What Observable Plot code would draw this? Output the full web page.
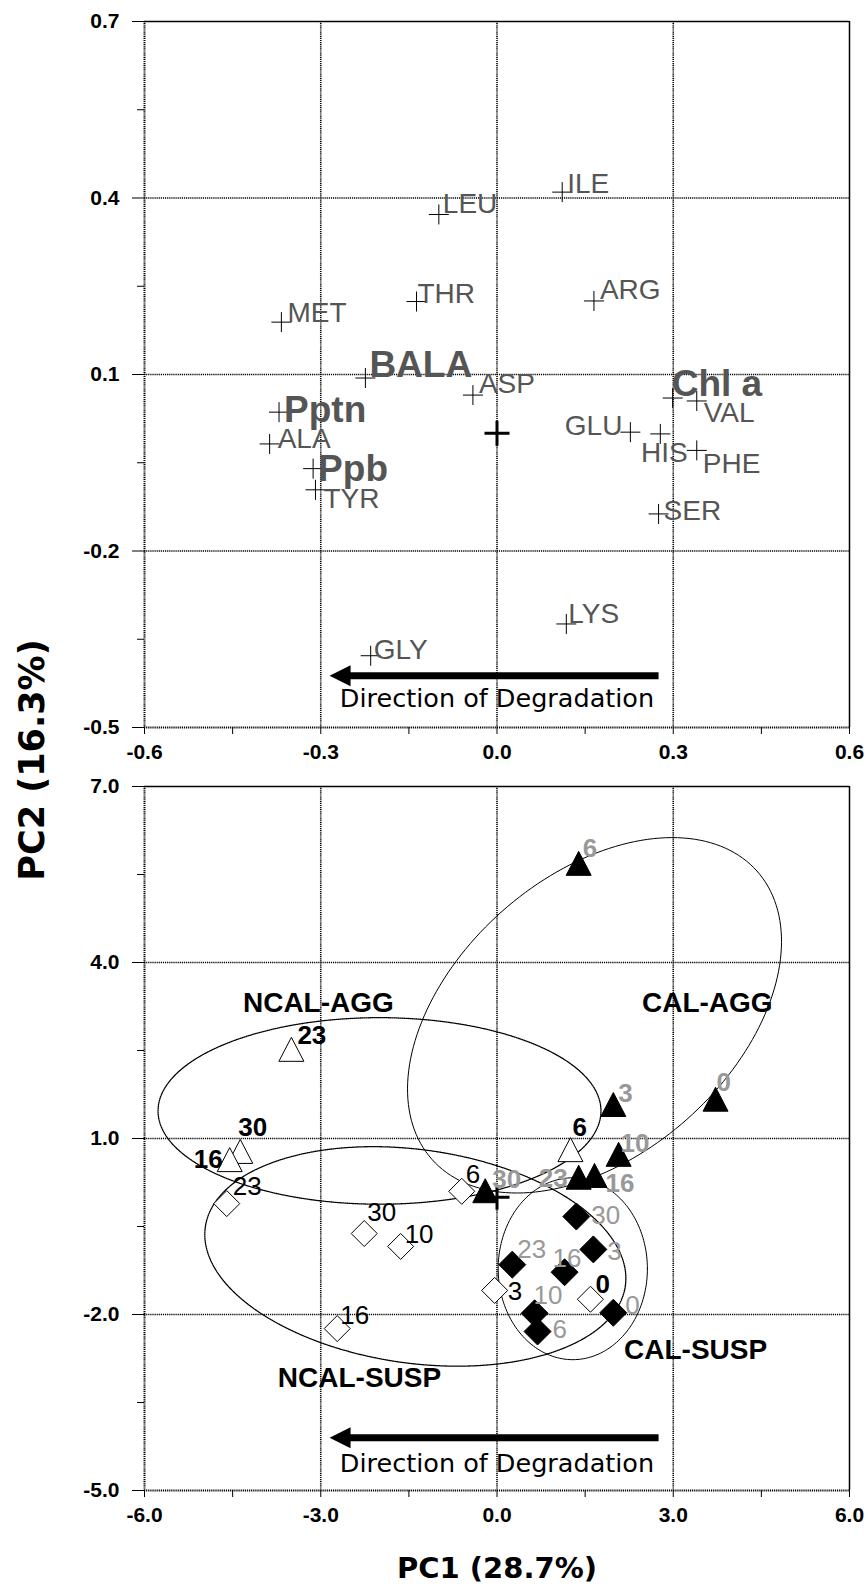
<!DOCTYPE html>
<html><head><meta charset="utf-8">
<script src="https://cdn.jsdelivr.net/npm/d3@7"></script>
<script src="https://cdn.jsdelivr.net/npm/@observablehq/plot@0.6"></script>
<style>
html,body{margin:0;padding:0;background:#fff;}
#wrap{position:relative;width:868px;height:1586px;overflow:hidden;background:#fff;}
#top{position:absolute;left:0;top:0;}
#bottom{position:absolute;left:0;top:770px;}
#pc2{position:absolute;left:32px;top:760px;transform:translate(-50%,-50%) rotate(-90deg);font:bold 35px "DejaVu Sans",Verdana,sans-serif;white-space:nowrap;color:#000;}
</style></head><body>
<div id="wrap"><div id="top"></div><div id="bottom"></div><div id="pc2">PC2 (16.3%)</div></div>
<script>
// ---------- Top panel: variable loadings ----------
const loadVars = ["LEU","ILE","THR","ARG","MET","BALA","ASP","Chl a","VAL","Pptn","ALA","GLU","HIS","PHE","Ppb","TYR","SER","LYS","GLY"];
const loadPC1  = [-0.099, 0.111,-0.137, 0.165,-0.367,-0.224,-0.041, 0.299, 0.340,-0.371,-0.387, 0.227, 0.278, 0.340,-0.313,-0.309, 0.275, 0.118,-0.215];
const loadPC2  = [ 0.372, 0.410, 0.224, 0.225, 0.189, 0.094, 0.065, 0.060, 0.055, 0.036,-0.018, 0.002,-0.001,-0.029,-0.060,-0.096,-0.137,-0.324,-0.378];
const loadBold = ["BALA","Chl a","Pptn","Ppb"];
// label layout: [dx, dy(baseline), anchor]
const loadLabelPos = [[4,-1,"start"],[5,1,"start"],[1,1,"start"],[6,-2,"start"],[6,0,"start"],[4,-1,"start"],[6,-2,"start"],[-1,-2,"start"],[7,21,"start"],[5,10,"start"],[8,4,"start"],[-8,3,"end"],[4,28,"middle"],[6,23,"start"],[5,12,"start"],[8,18,"start"],[5,6,"start"],[2,-1,"start"],[3,3,"start"]];

const topXTicks = [-0.6,-0.3,0.0,0.3,0.6];
const topYTicks = [-0.5,-0.2,0.1,0.4,0.7];
const topXMinor = [-0.45,-0.15,0.15,0.45];
const topYMinor = [-0.35,-0.05,0.25,0.55];
const topArrow = {from: 0.275, to: -0.285, y: -0.412, textY: -0.466, textX: 0.0};

// ---------- Bottom panel: sample scores ----------
const ncalAggDay = ["23","30","16","6"];
const ncalAggX   = [-3.50,-4.37,-4.55, 1.25];
const ncalAggY   = [ 2.52, 0.78, 0.64, 0.81];
const calAggDay  = ["6","0","3","10","16","23","30"];
const calAggX    = [ 1.39, 3.72, 1.98, 2.07, 1.66, 1.39,-0.20];
const calAggY    = [ 5.69, 1.67, 1.58, 0.73, 0.37, 0.34, 0.11];
const ncalSuspDay= ["23","30","10","16","6","3","0"];
const ncalSuspX  = [-4.60,-2.26,-1.64,-2.72,-0.60,-0.04, 1.59];
const ncalSuspY  = [-0.11,-0.62,-0.84,-2.24, 0.10,-1.59,-1.74];
const calSuspDay = ["30","3","23","16","10","6","0"];
const calSuspX   = [ 1.35, 1.64, 0.26, 1.15, 0.64, 0.69, 1.98];
const calSuspY   = [-0.33,-0.89,-1.15,-1.28,-1.98,-2.29,-1.97];

const ncalAggLabelPos  = [[6,-5,"start"],[-2,-15,"start"],[-7,8,"end"],[2,-14,"start"]];
const calAggLabelPos   = [[4,-6,"start"],[1,-8,"start"],[5,-2,"start"],[2,-2,"start"],[11,17,"start"],[-11,10,"end"],[7,-3,"start"]];
const ncalSuspLabelPos = [[6,-9,"start"],[3,-13,"start"],[4,-3,"start"],[3,-5,"start"],[4,-8,"start"],[13,10,"start"],[5,-6,"start"]];
const calSuspLabelPos  = [[15,7,"start"],[14,11,"start"],[5,-7,"start"],[-12,-5,"start"],[-1,-9,"start"],[15,6,"start"],[12,1,"start"]];

// group ellipses (PC1 centre, PC2 centre, semi-axes, rotation in degrees)
const ellName  = ["NCAL-AGG","NCAL-SUSP","CAL-AGG","CAL-SUSP"];
const ellCx    = [-2.00,-1.39, 1.66, 1.29];
const ellCy    = [ 1.47,-1.01, 3.10,-1.22];
const ellRx    = [ 3.77, 3.61, 3.70, 1.27];
const ellRy    = [ 1.59, 1.82, 2.37, 1.55];
const ellAngle = [ 0, -8, 41.6, 0];
const ellDotted= [true, true, false, false];

const groupLabel  = ["NCAL-AGG","CAL-AGG","NCAL-SUSP","CAL-SUSP"];
const groupLabelX = [-3.04, 3.58,-2.34, 3.38];
const groupLabelY = [ 3.15, 3.16,-3.23,-2.75];

const botXTicks = [-6,-3,0,3,6];
const botYTicks = [-5,-2,1,4,7];
const botXMinor = [-4.5,-1.5,1.5,4.5];
const botYMinor = [-3.5,-0.5,2.5,5.5];
const botArrow = {from: 2.75, to: -2.85, y: -4.10, textY: -4.69, textX: 0.0};

// ---------- symbols ----------
const plusSym = {draw(c,s){const r=Math.sqrt(s/Math.PI);c.moveTo(-r,0);c.lineTo(r,0);c.moveTo(0,-r);c.lineTo(0,r);}};
const triSym  = {draw(c,s){const r=Math.sqrt(s/Math.PI);const h=r*0.96;c.moveTo(0,-h);c.lineTo(r,h);c.lineTo(-r,h);c.closePath();}};
const diaSym  = {draw(c,s){const r=Math.sqrt(s/Math.PI);c.moveTo(0,-r);c.lineTo(r,0);c.lineTo(0,r);c.lineTo(-r,0);c.closePath();}};
const headSym = {draw(c,s){const r=Math.sqrt(s/Math.PI);c.moveTo(0,0);c.lineTo(2*r,-r);c.lineTo(2*r,r);c.closePath();}};

const fmt = d => d.toFixed(1);
const ARIAL = "'Liberation Sans', Arial, Helvetica, sans-serif";
const GRID = {stroke:"#000", strokeOpacity:1, strokeWidth:1.6, strokeDasharray:"1.2,0.9"};

function axes(xt, yt, xm, ym){
  return [
    Plot.gridX(xt.slice(1,-1), GRID),
    Plot.gridY(yt.slice(1,-1), GRID),
    Plot.ruleX([xt[0]], {...GRID, strokeWidth:2}),
    Plot.ruleY([yt[0]], {...GRID, strokeWidth:2}),
    Plot.ruleX([xt[xt.length-1]], {stroke:"#000", strokeWidth:1.5}),
    Plot.ruleY([yt[yt.length-1]], {stroke:"#000", strokeWidth:1.5}),
    Plot.axisY(yt, {anchor:"left", tickSize:12, tickPadding:13, tickFormat:fmt, label:null, fontSize:21, fontWeight:"bold", fontFamily:ARIAL}),
    Plot.axisY(ym, {anchor:"left", tickSize:7, tickFormat:()=>"", label:null}),
    Plot.axisX(xt, {anchor:"bottom", tickSize:7, tickPadding:10, tickFormat:fmt, label:null, fontSize:21, fontWeight:"bold", fontFamily:ARIAL}),
    Plot.axisX(xm, {anchor:"bottom", tickSize:7, tickFormat:()=>"", label:null})
  ];
}

function arrowMarks(a, gap){
  return [
    Plot.link([a], {x1:"from", x2: d => d.to + gap, y1:"y", y2:"y", stroke:"#000", strokeWidth:7}),
    Plot.dot([a], {x:"to", y:"y", symbol:headSym, r:10.5, fill:"#000", stroke:"none"}),
    Plot.text([a], {x:"textX", y:"textY", text:()=> "Direction of Degradation", fontSize:25.5, fontFamily:"'DejaVu Sans', Verdana, sans-serif", fill:"#000", textAnchor:"middle", lineAnchor:"bottom"})
  ];
}

// ---------- top chart ----------
const loadData = loadVars.map((v,i)=>({v, x:loadPC1[i], y:loadPC2[i], bold: loadBold.includes(v), pos: loadLabelPos[i]}));
const topPlot = Plot.plot({
  width:868, height:770, marginLeft:144, marginRight:19, marginTop:21, marginBottom:43,
  x:{domain:[-0.6,0.6], label:null}, y:{domain:[-0.5,0.7], label:null},
  style:{background:"#fff", fontFamily:ARIAL, overflow:"visible"},
  marks:[
    ...axes(topXTicks, topYTicks, topXMinor, topYMinor),
    Plot.dot(loadData, {x:"x", y:"y", symbol:plusSym, r:10, stroke:"#000", strokeWidth:1, fill:"none"}),
    Plot.dot([{x:0,y:0}], {x:"x", y:"y", symbol:plusSym, r:12.5, stroke:"#000", strokeWidth:3, fill:"none"}),
    ...loadData.map(d => Plot.text([d], {x:"x", y:"y", text:"v", dx:d.pos[0], dy:d.pos[1], textAnchor:d.pos[2], lineAnchor:"bottom",
        fontSize: d.bold ? 37 : 28, fontWeight: d.bold ? "bold" : "normal", fill:"#555", fontFamily:ARIAL})),
    ...arrowMarks(topArrow, 0.02)
  ]
});
document.getElementById("top").appendChild(topPlot);

// ---------- bottom chart ----------
function ellipsePts(i){
  const pts=[]; const t = ellAngle[i]*Math.PI/180;
  for(let k=0;k<=360;k+=2){
    const a=k*Math.PI/180, ex=ellRx[i]*Math.cos(a), ey=ellRy[i]*Math.sin(a);
    pts.push({x: ellCx[i] + ex*Math.cos(t) - ey*Math.sin(t), y: ellCy[i] + ex*Math.sin(t) + ey*Math.cos(t)});
  }
  return pts;
}
const ellMarks = ellName.map((n,i)=>Plot.line(ellipsePts(i), {x:"x", y:"y", stroke:"#000", strokeWidth: ellDotted[i]?1.3:1, strokeDasharray: ellDotted[i]?"1,1":null}));

const groups = [
  {day:ncalSuspDay, X:ncalSuspX, Y:ncalSuspY, pos:ncalSuspLabelPos, sym:diaSym, r:13, fill:"#fff", color:"#000", weight: d=> d==="0"?"bold":"normal"},
  {day:calSuspDay,  X:calSuspX,  Y:calSuspY,  pos:calSuspLabelPos,  sym:diaSym, r:13.5, fill:"#000", color:"#999", weight: ()=>"normal"},
  {day:ncalAggDay,  X:ncalAggX,  Y:ncalAggY,  pos:ncalAggLabelPos,  sym:triSym, r:12.5, fill:"#fff", color:"#000", weight: ()=>"bold"},
  {day:calAggDay,   X:calAggX,   Y:calAggY,   pos:calAggLabelPos,   sym:triSym, r:12.5, fill:"#000", color:"#999", weight: ()=>"bold"}
];
const pointMarks = [], labelMarks = [];
groups.forEach(g=>{
  const data = g.day.map((d,i)=>({d, x:g.X[i], y:g.Y[i], pos:g.pos[i]}));
  pointMarks.push(Plot.dot(data, {x:"x", y:"y", symbol:g.sym, r:g.r, fill:g.fill, stroke:"#000", strokeWidth:1}));
  data.forEach(p=>labelMarks.push(Plot.text([p], {x:"x", y:"y", text:"d", dx:p.pos[0], dy:p.pos[1], textAnchor:p.pos[2], lineAnchor:"bottom",
     fontSize:26, fontWeight:g.weight(p.d), fill:g.color, fontFamily:ARIAL})));
});
const groupLabelData = groupLabel.map((t,i)=>({t, x:groupLabelX[i], y:groupLabelY[i]}));

const botPlot = Plot.plot({
  width:868, height:816, marginLeft:144, marginRight:19, marginTop:16, marginBottom:96,
  x:{domain:[-6,6], label:null}, y:{domain:[-5,7], label:null},
  style:{background:"#fff", fontFamily:ARIAL, overflow:"visible"},
  marks:[
    ...axes(botXTicks, botYTicks, botXMinor, botYMinor),
    ...ellMarks,
    ...pointMarks,
    Plot.dot([{x:0,y:0}], {x:"x", y:"y", symbol:plusSym, r:12.5, stroke:"#000", strokeWidth:3, fill:"none"}),
    ...labelMarks,
    Plot.text(groupLabelData, {x:"x", y:"y", text:"t", textAnchor:"middle", lineAnchor:"bottom", fontSize:28, fontWeight:"bold", fill:"#000", fontFamily:ARIAL}),
    ...arrowMarks(botArrow, 0.2),
    Plot.text(["PC1 (28.7%)"], {frameAnchor:"bottom", text:d=>d, dy:78, lineAnchor:"middle", fontSize:29, fontWeight:"bold", fontFamily:"'DejaVu Sans', Verdana, sans-serif", fill:"#000"})
  ]
});
document.getElementById("bottom").appendChild(botPlot);
</script></body></html>
